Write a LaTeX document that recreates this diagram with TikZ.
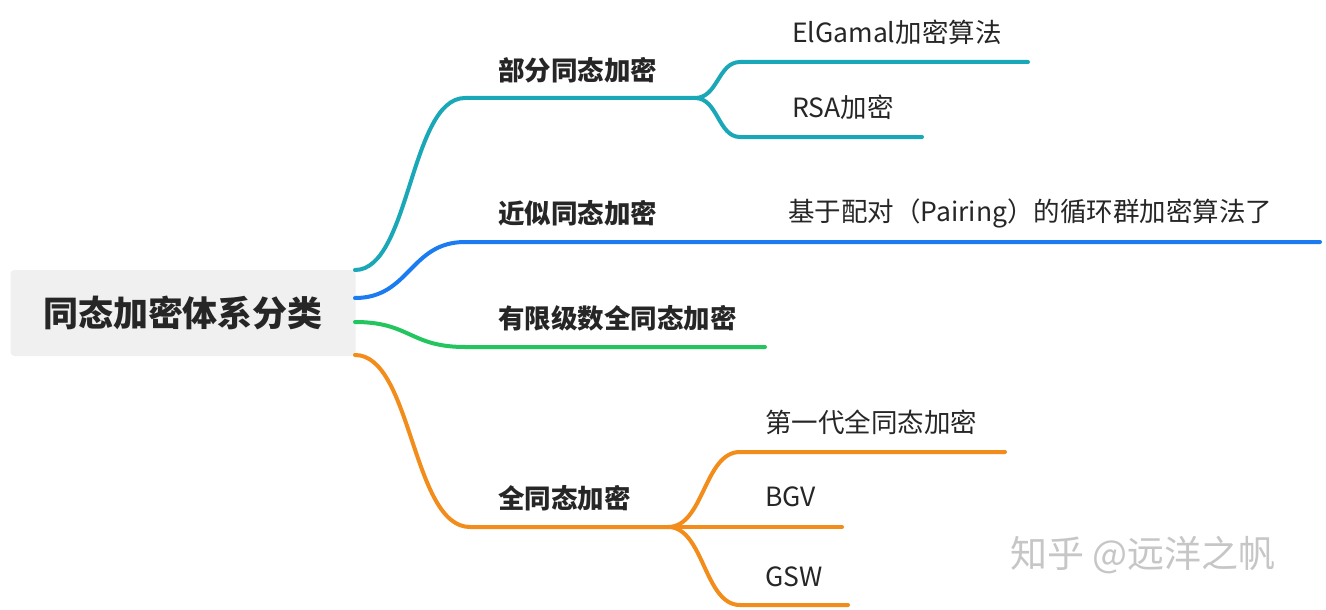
\documentclass[tikz,border=0pt]{standalone}
\usepackage{fontspec}
\setmainfont{Noto Sans CJK SC}
\begin{document}
\begin{tikzpicture}[x=1pt,y=-1pt,
  br/.style={line width=4pt,line cap=round},
  lab/.style={font=\fontsize{26.5}{30}\selectfont,text=black!85},
  lab1/.style={lab,font=\fontsize{26.5}{30}\selectfont\bfseries},
  every node/.style={inner sep=0pt}]
\definecolor{teal1}{HTML}{1AA8B8}\definecolor{blue1}{HTML}{1A7CF0}
\definecolor{green1}{HTML}{22C55E}\definecolor{orange1}{HTML}{F28C1A}
\useasboundingbox[fill=white] (0,0) rectangle (1326,610);
\node[fill=gray!12,rounded corners=4pt,minimum width=345pt,minimum height=86pt,font=\fontsize{35}{38}\selectfont\bfseries,text=black!85] (root) at (183,313) {同态加密体系分类};
\coordinate (t0) at (355,270); \coordinate (t1) at (465,98); \coordinate (t2) at (695,98);
\coordinate (t3) at (740,62); \coordinate (t4) at (1028,62);
\coordinate (t5) at (740,137); \coordinate (t6) at (922,137);
\draw[br,teal1] (t0) .. controls (410,270) and (410,98) .. (t1) -- (t2);
\draw[br,teal1] (t2) .. controls (718,98) and (718,62) .. (t3) -- (t4);
\draw[br,teal1] (t2) .. controls (718,98) and (718,137) .. (t5) -- (t6);
\coordinate (b0) at (355,298); \coordinate (b1) at (465,242); \coordinate (b2) at (1320,242);
\draw[br,blue1] (b0) .. controls (410,298) and (410,242) .. (b1) -- (b2);
\coordinate (g0) at (355,322); \coordinate (g1) at (465,347); \coordinate (g2) at (765,347);
\draw[br,green1] (g0) .. controls (410,322) and (410,347) .. (g1) -- (g2);
\coordinate (o0) at (355,355); \coordinate (o1) at (470,527); \coordinate (o2) at (668,527);
\coordinate (o3) at (740,452); \coordinate (o4) at (1005,452);
\coordinate (o5) at (842,527); \coordinate (o6) at (740,605); \coordinate (o7) at (848,605);
\draw[br,orange1] (o0) .. controls (412,355) and (412,527) .. (o1) -- (o2);
\draw[br,orange1] (o2) .. controls (704,527) and (704,452) .. (o3) -- (o4);
\draw[br,orange1] (o2) -- (o5);
\draw[br,orange1] (o2) .. controls (704,527) and (704,605) .. (o6) -- (o7);
\node[lab1,anchor=west] (l1) at (498,70) {部分同态加密};
\node[lab,anchor=west] (l2) at (792,32) {ElGamal加密算法};
\node[lab,anchor=west] (l3) at (792,107) {RSA加密};
\node[lab1,anchor=west] (l4) at (498,213) {近似同态加密};
\node[lab,anchor=west] (l5) at (788,213) {基于配对（Pairing）的循环群加密算法了};
\node[lab1,anchor=west] (l6) at (498,318) {有限级数全同态加密};
\node[lab1,anchor=west] (l7) at (498,498) {全同态加密};
\node[lab,anchor=west] (l8) at (765,422) {第一代全同态加密};
\node[lab,anchor=west] (l9) at (765,497) {BGV};
\node[lab,anchor=west] (l10) at (765,577) {GSW};
\node[font=\fontsize{37}{40}\selectfont,text=gray!45,anchor=west] (wm) at (1010,555) {知乎 @远洋之帆};
\end{tikzpicture}
\end{document}
